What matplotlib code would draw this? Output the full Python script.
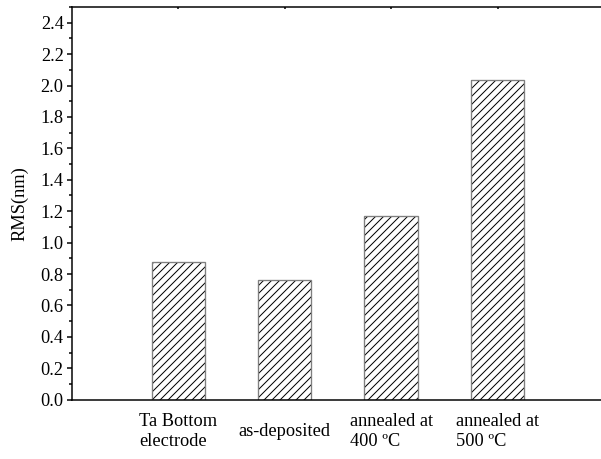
import numpy as np
import matplotlib
matplotlib.use('Agg')
import matplotlib.pyplot as plt
from matplotlib.ticker import MultipleLocator, FormatStrFormatter

# Data
categories = ['Ta Bottom\nelectrode', 'as-deposited', 'annealed at\n400 ºC', 'annealed at\n500 ºC']
rms = [0.875, 0.76, 1.17, 2.035]
positions = [1, 2, 3, 4]

plt.rcParams['font.family'] = ['Liberation Serif', 'DejaVu Serif']
plt.rcParams['hatch.linewidth'] = 0.6

dpi = 120
fig = plt.figure(figsize=(601 / dpi, 459 / dpi), dpi=dpi)
W, H = 601, 459
left, right, top, bottom = 71.7, 604.0, 7.0, 399.7
ax = fig.add_axes([left / W, 1 - bottom / H, (right - left) / W, (bottom - top) / H])

# hatch layer (black) + gray outline on top
ax.bar(positions, rms, width=0.5, color='white', edgecolor='black', hatch='/////', linewidth=0)
ax.bar(positions, rms, width=0.5, fill=False, edgecolor='#7f7f7f', linewidth=0.8)

ax.set_xlim(0, 5)
ax.set_ylim(0, 2.5)
ax.yaxis.set_major_locator(MultipleLocator(0.2))
ax.yaxis.set_minor_locator(MultipleLocator(0.1))
ax.yaxis.set_major_formatter(FormatStrFormatter('%.1f'))

ax.set_xticks(positions)
ax.set_xticklabels(categories, fontsize=11)
for lab in ax.get_xticklabels():
    lab.set_va('center')
    lab.set_multialignment('left')
ax.tick_params(axis='x', which='both', bottom=False, top=True, direction='in',
               length=1, width=0.9, pad=19)
ax.tick_params(axis='y', which='major', direction='out', length=3, width=0.9,
               labelsize=11, pad=1.8)
ax.tick_params(axis='y', which='minor', direction='out', length=1.8, width=0.9)

for s in ['left', 'bottom', 'top']:
    ax.spines[s].set_linewidth(0.9)
ax.spines['right'].set_visible(False)

ax.set_ylabel('RMS(nm)', fontsize=11)
ax.yaxis.set_label_coords(-0.082, 0.5)

fig.savefig('out.png', dpi=dpi)
